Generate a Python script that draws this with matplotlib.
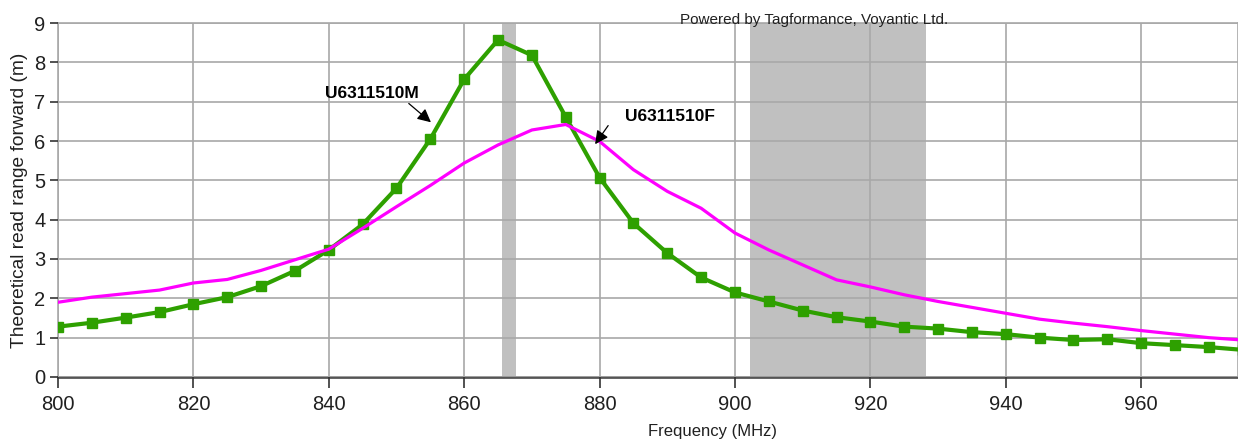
import matplotlib
matplotlib.use('Agg')
import matplotlib.pyplot as plt

# --- Data (5 MHz steps) ---
freq_mhz = [800, 805, 810, 815, 820, 825, 830, 835, 840, 845, 850, 855,
            860, 865, 870, 875, 880, 885, 890, 895, 900, 905, 910, 915,
            920, 925, 930, 935, 940, 945, 950, 955, 960, 965, 970, 975]

range_m_tag = [1.28, 1.38, 1.51, 1.65, 1.85, 2.03, 2.31, 2.70, 3.23, 3.88, 4.80, 6.05,
               7.57, 8.57, 8.18, 6.61, 5.07, 3.91, 3.15, 2.53, 2.15, 1.92, 1.69, 1.52,
               1.41, 1.28, 1.23, 1.14, 1.09, 1.00, 0.94, 0.96, 0.86, 0.81, 0.76, 0.69]

range_f_tag = [1.90, 2.03, 2.12, 2.21, 2.39, 2.48, 2.71, 2.98, 3.25, 3.78, 4.33, 4.87,
               5.44, 5.90, 6.28, 6.42, 5.99, 5.27, 4.72, 4.29, 3.66, 3.23, 2.85, 2.47,
               2.29, 2.09, 1.92, 1.77, 1.62, 1.47, 1.37, 1.28, 1.18, 1.09, 1.00, 0.94]

# regulatory bands shaded in grey (MHz)
bands = [(865.6, 867.6), (902.2, 928.2)]

label_m = 'U6311510M'
label_f = 'U6311510F'

font = ['Liberation Sans', 'DejaVu Sans']
txt_col = '#202020'
grid_col = '#a8a8a8'

fig = plt.figure(figsize=(12.38, 4.45), dpi=100)
ax = fig.add_axes([58 / 1238, 1 - 377 / 445, 1 - 58 / 1238, (377 - 23) / 445])

for lo, hi in bands:
    ax.axvspan(lo, hi, color='#c0c0c0', lw=0, zorder=1)

ax.plot(freq_mhz, range_m_tag, color='#2ea000', lw=3, marker='s', ms=7.5,
        mec='#2ea000', zorder=4)
ax.plot(freq_mhz, range_f_tag, color='#ff00ff', lw=2.3, zorder=5)

ax.set_xlim(800, 974.3)
ax.set_ylim(0, 9)
ax.set_xticks([800, 820, 840, 860, 880, 900, 920, 940, 960])
ax.set_yticks(range(10))

ax.grid(True, color=grid_col, lw=1.2, zorder=2)
ax.set_axisbelow(False)
for gl in ax.get_xgridlines() + ax.get_ygridlines():
    gl.set_zorder(2)

for side in ['left', 'top', 'right']:
    ax.spines[side].set_color(grid_col)
    ax.spines[side].set_linewidth(1.2)
ax.spines['bottom'].set_color('#555555')
ax.spines['bottom'].set_linewidth(2)

ax.tick_params(axis='y', length=6, width=1.2, color='#333333', pad=3,
               labelsize=14.5, labelcolor=txt_col)
ax.tick_params(axis='x', length=8, width=1.2, color='#333333', pad=5,
               labelsize=14.5, labelcolor=txt_col)
for lab in ax.get_xticklabels() + ax.get_yticklabels():
    lab.set_family(font)

ax.set_xlabel('Frequency (MHz)', family=font, fontsize=12, color=txt_col)
ax.xaxis.set_label_coords((713 - 58) / 1180, -(424 - 377) / 354)
ax.set_ylabel('Theoretical read range forward (m)', family=font, fontsize=13.8,
              color=txt_col)
ax.yaxis.set_label_coords(-(58 - 28) / 1180, 0.5)

# curve labels with arrows
ax.text(839.4, 7.2, label_m, family=font, fontweight='bold', fontsize=12.5,
        color='black', va='center', ha='left', zorder=6)
ax.annotate('', xy=(855.4, 6.43), xytext=(851.5, 7.0),
            arrowprops=dict(arrowstyle='-|>', color='black', lw=0.9,
                            mutation_scale=20), zorder=6)
ax.text(883.8, 6.62, label_f, family=font, fontweight='bold', fontsize=12.5,
        color='black', va='center', ha='left', zorder=6)
ax.annotate('', xy=(879.1, 5.86), xytext=(881.5, 6.45),
            arrowprops=dict(arrowstyle='-|>', color='black', lw=0.9,
                            mutation_scale=20), zorder=6)

fig.text(680 / 1238, 1 - 24 / 445, 'Powered by Tagformance, Voyantic Ltd.',
         family=font, fontsize=11, color=txt_col, ha='left', va='baseline')

fig.savefig('out.png', dpi=100)
